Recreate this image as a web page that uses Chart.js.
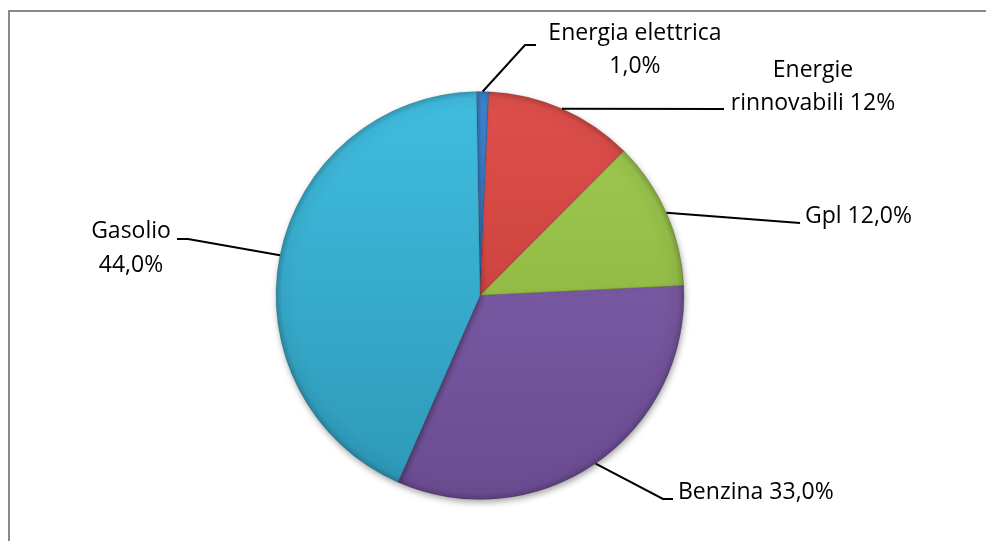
<!DOCTYPE html>
<html>
<head>
<meta charset="utf-8">
<script src="https://cdn.jsdelivr.net/npm/chart.js@4/dist/chart.umd.min.js"></script>
<style>
  html, body { margin: 0; padding: 0; background: #fff; }
  #wrap { position: relative; width: 986px; height: 541px; }
  #frame {
    position: absolute; left: 8px; top: 10px; right: -2px; bottom: -2px;
    border-left: 2px solid #8a8a8a; border-top: 2px solid #8a8a8a;
  }
  canvas { position: absolute; left: 0; top: 0; }
</style>
</head>
<body>
<div id="wrap">
  <div id="frame"></div>
  <canvas id="pie" width="986" height="541"></canvas>
</div>
<script>
// Fuel mix shares (%)
const categories = ["Energia elettrica", "Energie rinnovabili", "Gpl", "Benzina", "Gasolio"];
const shares = [1.0, 12, 12.0, 33.0, 44.0];
const shareLabels = ["1,0%", "12%", "12,0%", "33,0%", "44,0%"];

// slice colours: top / bottom of the vertical shading
const topColors = ["#3f86d2", "#df4f4b", "#9fca4f", "#8362ad", "#40bde0"];
const bottomColors = ["#2f68ad", "#bd3935", "#86ad3c", "#6b4c92", "#2d98b6"];

// where each label sits and how its leader line bends
const labelLayout = [
  { lines: ["Energia elettrica", shareLabels[0]], x: 635, y: [40, 73], align: "center", path: [[525, 45], [536, 45]] },
  { lines: ["Energie", "rinnovabili " + shareLabels[1]], x: 813, y: [77, 110], align: "center", path: [[724, 109]] },
  { lines: ["Gpl " + shareLabels[2]], x: 805, y: [223], align: "left", path: [[800, 223]] },
  { lines: ["Benzina " + shareLabels[3]], x: 678, y: [499], align: "left", path: [[663, 499], [673, 499]] },
  { lines: ["Gasolio", shareLabels[4]], x: 131, y: [238, 272], align: "center", path: [[188, 239], [177, 239]] }
];

const FONT = "23px 'Open Sans', Lato, sans-serif";

function sliceFill(ctx) {
  const chart = ctx.chart;
  const area = chart.chartArea;
  if (!area) return topColors[ctx.dataIndex];
  const g = chart.ctx.createLinearGradient(0, area.top, 0, area.bottom);
  g.addColorStop(0, topColors[ctx.dataIndex]);
  g.addColorStop(1, bottomColors[ctx.dataIndex]);
  return g;
}

// soft shadow under the pie + darker rim
const pieShade = {
  id: "pieShade",
  beforeDatasetsDraw(chart) {
    const c = chart.ctx;
    c.save();
    c.shadowColor = "rgba(0,0,0,0.35)";
    c.shadowBlur = 6;
    c.shadowOffsetX = 1;
    c.shadowOffsetY = 3;
  },
  afterDatasetsDraw(chart) {
    const c = chart.ctx;
    c.restore();
    const arc = chart.getDatasetMeta(0).data[0];
    const cx = arc.x, cy = arc.y, r = arc.outerRadius;
    c.save();
    c.beginPath();
    c.arc(cx, cy, r, 0, Math.PI * 2);
    c.clip();
    const rim = c.createRadialGradient(cx, cy, r * 0.9, cx, cy, r);
    rim.addColorStop(0, "rgba(0,0,0,0)");
    rim.addColorStop(0.7, "rgba(0,0,0,0.04)");
    rim.addColorStop(1, "rgba(0,0,0,0.2)");
    c.fillStyle = rim;
    c.fillRect(cx - r, cy - r, r * 2, r * 2);
    c.restore();
  }
};

// labels with leader lines
const leaderLabels = {
  id: "leaderLabels",
  afterDraw(chart) {
    const c = chart.ctx;
    const arcs = chart.getDatasetMeta(0).data;
    c.save();
    c.font = FONT;
    c.fillStyle = "#000";
    c.strokeStyle = "#000";
    c.lineWidth = 2;
    c.textBaseline = "alphabetic";
    labelLayout.forEach((lab, i) => {
      const a = arcs[i];
      const mid = (a.startAngle + a.endAngle) / 2;
      const sx = a.x + Math.cos(mid) * a.outerRadius;
      const sy = a.y + Math.sin(mid) * a.outerRadius;
      c.beginPath();
      c.moveTo(sx, sy);
      lab.path.forEach(p => c.lineTo(p[0], p[1]));
      c.stroke();
      c.textAlign = lab.align;
      lab.lines.forEach((t, k) => c.fillText(t, lab.x, lab.y[k]));
    });
    c.restore();
  }
};

new Chart(document.getElementById("pie"), {
  type: "pie",
  data: {
    labels: categories,
    datasets: [{
      data: shares,
      backgroundColor: sliceFill,
      borderColor: "rgba(0,0,0,0.12)",
      borderWidth: 1
    }]
  },
  options: {
    responsive: false,
    animation: false,
    rotation: -1,
    layout: { padding: { top: 91, bottom: 41, left: 274, right: 300 } },
    plugins: {
      legend: { display: false },
      tooltip: { enabled: false }
    }
  },
  plugins: [pieShade, leaderLabels]
});
</script>
</body>
</html>
